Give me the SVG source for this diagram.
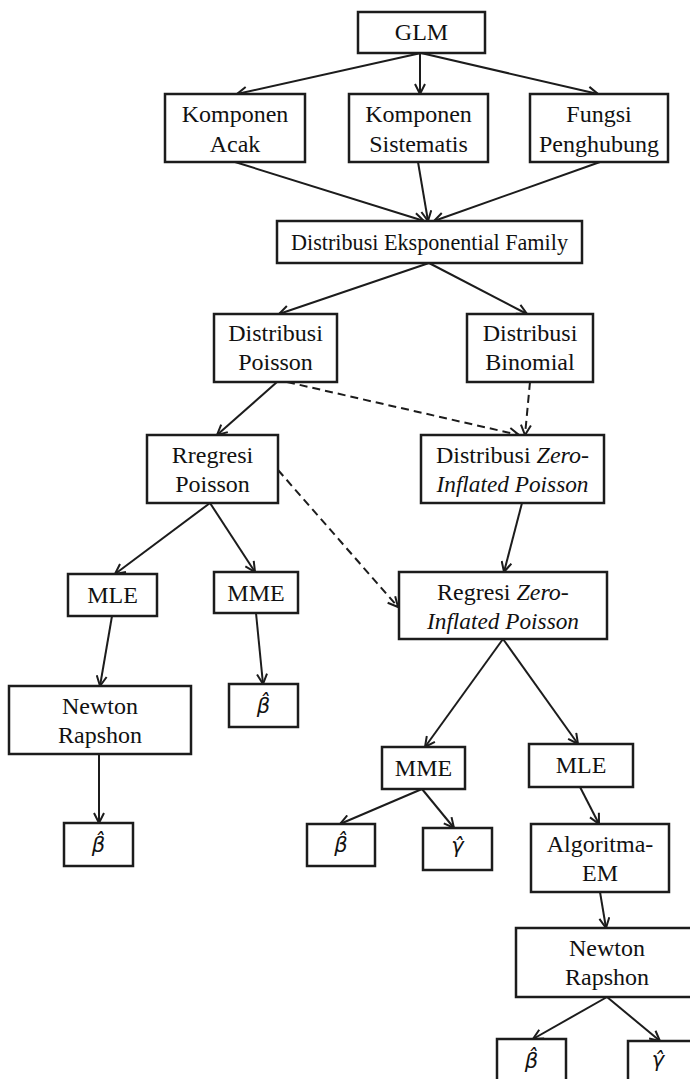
<svg xmlns="http://www.w3.org/2000/svg" width="690" height="1079" viewBox="0 0 690 1079">
  <style>
    .box { fill: #ffffff; stroke: #1c1c1c; stroke-width: 2.5; }
    .lbl { font-family: "Liberation Serif", "Times New Roman", serif; font-size: 24px; fill: #111111; text-anchor: middle; }
    .it { font-style: italic; }
    .sym { font-family: "DejaVu Sans", sans-serif; font-size: 21px; font-style: italic; fill: #111111; text-anchor: middle; }
    .edge { stroke: #1c1c1c; stroke-width: 2; fill: none; marker-end: url(#arr); }
    .dash { stroke-dasharray: 8 5; }
  </style>
  <defs>
    <marker id="arr" viewBox="0 0 12 12" refX="11" refY="6" markerWidth="12" markerHeight="12" markerUnits="userSpaceOnUse" orient="auto">
      <path d="M1,1 L11,6 L1,11" fill="none" stroke="#1c1c1c" stroke-width="2"/>
    </marker>
  </defs>
  <rect width="690" height="1079" fill="#ffffff"/>

  <g id="connectors">
    <line class="edge" x1="421" y1="53" x2="237" y2="94"/>
    <line class="edge" x1="420" y1="53" x2="420" y2="94"/>
    <line class="edge" x1="421" y1="53" x2="598" y2="94"/>
    <line class="edge" x1="235" y1="162" x2="424" y2="221"/>
    <line class="edge" x1="418" y1="162" x2="428" y2="221"/>
    <line class="edge" x1="600" y1="162" x2="434" y2="221"/>
    <line class="edge" x1="429" y1="263" x2="279" y2="314"/>
    <line class="edge" x1="429" y1="263" x2="527" y2="314"/>
    <line class="edge" x1="277" y1="382" x2="217" y2="435"/>
    <line class="edge dash" x1="287" y1="382" x2="519" y2="435"/>
    <line class="edge dash" x1="530" y1="382" x2="525" y2="435"/>
    <line class="edge" x1="522" y1="503" x2="504" y2="572"/>
    <line class="edge" x1="210" y1="503" x2="115" y2="574"/>
    <line class="edge" x1="210" y1="503" x2="255" y2="572"/>
    <line class="edge dash" x1="278" y1="470" x2="398" y2="607"/>
    <line class="edge" x1="112" y1="616" x2="100" y2="686"/>
    <line class="edge" x1="256" y1="613" x2="263" y2="684"/>
    <line class="edge" x1="99" y1="754" x2="99" y2="823"/>
    <line class="edge" x1="503" y1="639" x2="425" y2="747"/>
    <line class="edge" x1="503" y1="639" x2="578" y2="744"/>
    <line class="edge" x1="422" y1="789" x2="340" y2="824"/>
    <line class="edge" x1="422" y1="789" x2="454" y2="828"/>
    <line class="edge" x1="580" y1="787" x2="599" y2="824"/>
    <line class="edge" x1="600" y1="892" x2="606" y2="928"/>
    <line class="edge" x1="607" y1="997" x2="533" y2="1039"/>
    <line class="edge" x1="607" y1="997" x2="660" y2="1041"/>
  </g>

  <g id="glm">
    <rect class="box" x="358" y="12" width="127" height="41"/>
    <text class="lbl" x="421.5" y="40">GLM</text>
  </g>
  <g id="komponen-acak">
    <rect class="box" x="165" y="94" width="140" height="68"/>
    <text class="lbl" x="235" y="122">Komponen</text>
    <text class="lbl" x="235" y="152">Acak</text>
  </g>
  <g id="komponen-sistematis">
    <rect class="box" x="349" y="94" width="139" height="68"/>
    <text class="lbl" x="418.5" y="122">Komponen</text>
    <text class="lbl" x="418.5" y="152">Sistematis</text>
  </g>
  <g id="fungsi-penghubung">
    <rect class="box" x="530" y="94" width="138" height="68"/>
    <text class="lbl" x="599" y="122">Fungsi</text>
    <text class="lbl" x="599" y="152">Penghubung</text>
  </g>
  <g id="distribusi-eksponential">
    <rect class="box" x="277" y="221" width="305" height="42"/>
    <text class="lbl" x="429.5" y="250" textLength="277" lengthAdjust="spacingAndGlyphs">Distribusi Eksponential Family</text>
  </g>
  <g id="distribusi-poisson">
    <rect class="box" x="214" y="314" width="123" height="68"/>
    <text class="lbl" x="275.5" y="341">Distribusi</text>
    <text class="lbl" x="275.5" y="370">Poisson</text>
  </g>
  <g id="distribusi-binomial">
    <rect class="box" x="467" y="314" width="126" height="68"/>
    <text class="lbl" x="530" y="341">Distribusi</text>
    <text class="lbl" x="530" y="370">Binomial</text>
  </g>
  <g id="regresi-poisson">
    <rect class="box" x="147" y="435" width="131" height="68"/>
    <text class="lbl" x="212.5" y="463">Rregresi</text>
    <text class="lbl" x="212.5" y="492">Poisson</text>
  </g>
  <g id="distribusi-zip">
    <rect class="box" x="421" y="435" width="183" height="68"/>
    <text class="lbl" x="512.5" y="463">Distribusi <tspan class="it">Zero-</tspan></text>
    <text class="lbl it" x="512.5" y="492" textLength="152" lengthAdjust="spacingAndGlyphs">Inflated Poisson</text>
  </g>
  <g id="mle-poisson">
    <rect class="box" x="68" y="574" width="89" height="42"/>
    <text class="lbl" x="112.5" y="603">MLE</text>
  </g>
  <g id="mme-poisson">
    <rect class="box" x="214" y="572" width="84" height="41"/>
    <text class="lbl" x="256" y="601">MME</text>
  </g>
  <g id="regresi-zip">
    <rect class="box" x="399" y="572" width="208" height="67"/>
    <text class="lbl" x="503" y="600">Regresi <tspan class="it">Zero-</tspan></text>
    <text class="lbl it" x="503" y="629" textLength="152" lengthAdjust="spacingAndGlyphs">Inflated Poisson</text>
  </g>
  <g id="newton-raphson-poisson">
    <rect class="box" x="9" y="686" width="182" height="68"/>
    <text class="lbl" x="100" y="714">Newton</text>
    <text class="lbl" x="100" y="743">Rapshon</text>
  </g>
  <!-- estimate boxes: italic symbol carrying a combining circumflex -->
  <g id="beta-mme-poisson">
    <rect class="box" x="229" y="684" width="69" height="43"/>
    <text class="sym" x="263.5" y="713">β̂</text>
  </g>
  <g id="beta-nr-poisson">
    <rect class="box" x="64" y="823" width="69" height="43"/>
    <text class="sym" x="98.5" y="852">β̂</text>
  </g>
  <g id="mme-zip">
    <rect class="box" x="382" y="747" width="83" height="42"/>
    <text class="lbl" x="423.5" y="776">MME</text>
  </g>
  <g id="mle-zip">
    <rect class="box" x="529" y="744" width="104" height="43"/>
    <text class="lbl" x="581" y="773">MLE</text>
  </g>
  <g id="beta-mme-zip">
    <rect class="box" x="307" y="824" width="68" height="42"/>
    <text class="sym" x="341" y="852">β̂</text>
  </g>
  <g id="gamma-mme-zip">
    <rect class="box" x="423" y="828" width="69" height="42"/>
    <text class="sym" x="457.5" y="853">γ̂</text>
  </g>
  <g id="algoritma-em">
    <rect class="box" x="531" y="824" width="138" height="68"/>
    <text class="lbl" x="600" y="852">Algoritma-</text>
    <text class="lbl" x="600" y="881">EM</text>
  </g>
  <g id="newton-raphson-zip">
    <rect class="box" x="516" y="928" width="182" height="69"/>
    <text class="lbl" x="607" y="956">Newton</text>
    <text class="lbl" x="607" y="985">Rapshon</text>
  </g>
  <g id="beta-nr-zip">
    <rect class="box" x="497" y="1039" width="69" height="45"/>
    <text class="sym" x="531.5" y="1068">β̂</text>
  </g>
  <g id="gamma-nr-zip">
    <rect class="box" x="628" y="1041" width="69" height="45"/>
    <text class="sym" x="658" y="1067">γ̂</text>
  </g>
</svg>
